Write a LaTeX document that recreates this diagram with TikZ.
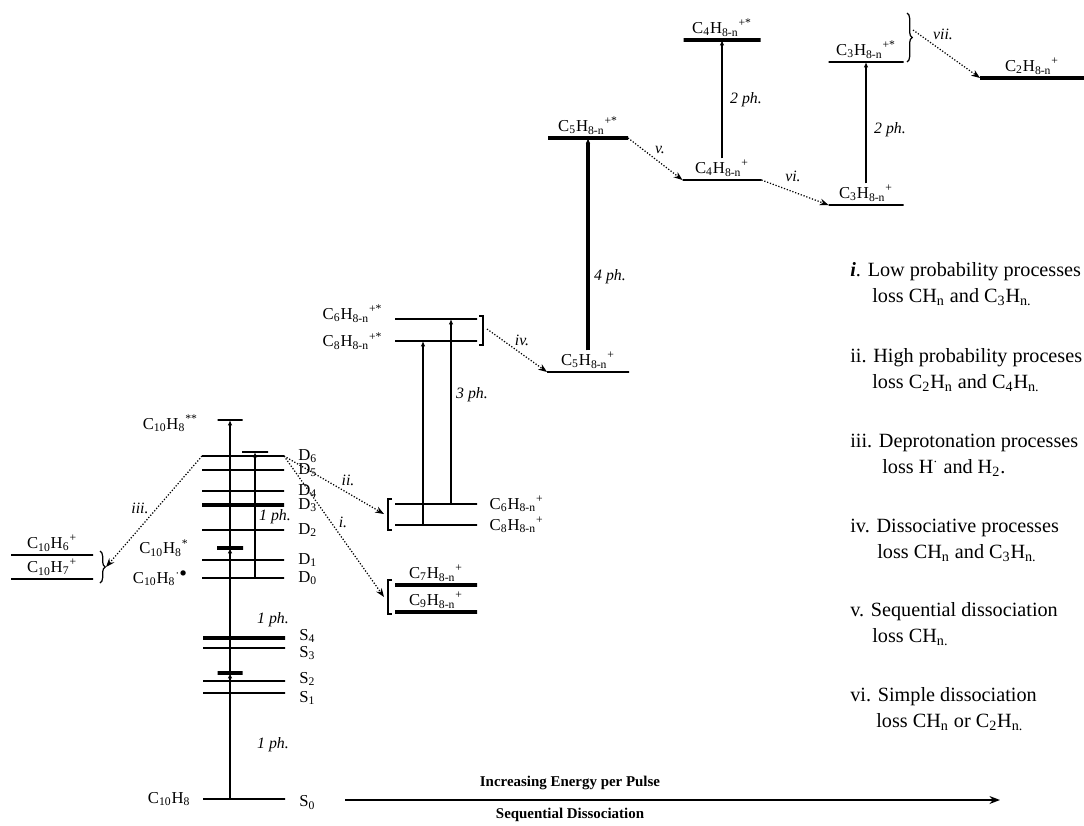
\documentclass[tikz,border=0pt]{standalone}
\usepackage{fontspec}
\setmainfont{Liberation Serif}
\usetikzlibrary{
  arrows.meta,
  positioning,
  decorations.pathreplacing
}
\newcommand{\cion}[2]{C\textsubscript{#1}H\textsubscript{8-n}\textsuperscript{#2}}
\newcommand{\cten}[2]{C\textsubscript{10}H\textsubscript{#1}\textsuperscript{#2}}

\begin{document}
\begin{tikzpicture}[
  x=0.02cm, y=-0.02cm,
  lvl/.style={draw, line width=0.8pt, minimum width=#1*0.02cm, minimum height=0pt, inner sep=0pt, outer sep=0pt},
  lvlb/.style={lvl=#1, line width=1.8pt},
  lab/.style={font=\fontsize{9.5}{10}\selectfont, inner sep=1pt},
  ph/.style={-{Latex[length=3pt, width=2.5pt]}, line width=0.7pt},
  phl/.style={font=\fontsize{9}{10}\selectfont\itshape},
  proc/.style={densely dotted, line width=0.7pt, -{Stealth[length=5pt]}},
  brc/.style={decorate, decoration={brace, amplitude=3pt}, line width=0.7pt},
  leg/.style={font=\fontsize{11.5}{13}\selectfont, anchor=west, inner sep=0pt},
  axl/.style={font=\fontsize{8.5}{10}\selectfont\bfseries},
]
\useasboundingbox (0,0) rectangle (1084,825);

% neutral and cation levels of C10H8
\node[lvl=82] (S0) at (244,799) {};
\node[lvl=82] (S1) at (244,693) {};
\node[lvl=82] (S2) at (244,681) {};
\node[lvl=82] (S3) at (244,648) {};
\node[lvlb=82] (S4) at (244,638) {};
\node[lvlb=25] (smark) at (230,673) {};
\node[lvl=82] (D0) at (243,578) {};
\node[lvl=82] (D1) at (243,560) {};
\node[lvl=82] (D2) at (243,530) {};
\node[lvlb=82] (D3) at (243,505) {};
\node[lvl=82] (D4) at (243,491) {};
\node[lvl=82] (D5) at (243,470) {};
\node[lvl=82] (D6) at (243,456) {};
\node[lvlb=26] (cmark) at (230,548) {};
\node[lvl=26] (dmark) at (255,452) {};
\node[lvl=25] (top) at (230,420) {};

\node[lab, right=7pt of S0, yshift=-2pt] {S\textsubscript{0}};
\node[lab, right=7pt of S1, yshift=-3pt] {S\textsubscript{1}};
\node[lab, right=7pt of S2, yshift=1pt] {S\textsubscript{2}};
\node[lab, right=7pt of S3, yshift=-3pt] {S\textsubscript{3}};
\node[lab, right=7pt of S4, yshift=1pt] {S\textsubscript{4}};
\foreach \n in {0,...,6}
  \node[lab, right=7pt of D\n] {D\textsubscript{\n}};

\node[lab, left=6pt of S0] {C\textsubscript{10}H\textsubscript{8}};
\node[lab, left=7pt of D0] {\cten{8}{$\cdot\bullet$}};
\node[lab, left=15pt of cmark] {\cten{8}{*}};
\node[lab, left=10pt of top, yshift=-2pt] {\cten{8}{**}};

\draw[ph] (smark |- S0) -- (smark);
\draw[ph] (smark) -- (cmark);
\draw[ph] (cmark) -- (top);
\draw[ph] (dmark |- D0) -- (dmark);
\node[phl] at (273,745) {1 ph.};
\node[phl] at (273,620) {1 ph.};
\node[phl] at (275,517) {1 ph.};

% deprotonation
\node[lvl=82] (C10H6) at (52,555) {};
\node[lvl=82] (C10H7) at (52,579) {};
\node[lab, above=1pt of C10H6] {\cten{6}{+}};
\node[lab, above=1pt of C10H7] {\cten{7}{+}};
\draw[brc] (100,551) -- (100,583);
\coordinate (brL) at (106,567);
\draw[proc] (D6.west) -- (brL);
\node[phl] at (140,508) {iii.};

% fragments
\node[lvl=82] (C6s) at (436,319) {};
\node[lvl=82] (C8s) at (436,341) {};
\node[lvl=82] (C6) at (436,504) {};
\node[lvl=82] (C8) at (436,525) {};
\node[lvlb=82] (C7) at (436,585) {};
\node[lvlb=82] (C9) at (436,612) {};
\node[lab, left=6pt of C6s, yshift=3pt] {\cion{6}{+*}};
\node[lab, left=6pt of C8s] {\cion{8}{+*}};
\node[lab, right=6pt of C6] {\cion{6}{+}};
\node[lab, right=6pt of C8] {\cion{8}{+}};
\node[lab, above=1pt of C7] {\cion{7}{+}};
\node[lab, above=1pt of C9] {\cion{9}{+}};

\draw[line width=0.7pt] (479,316) -- (483,316) -- (483,345) -- (479,345);
\draw[line width=0.7pt] (392,499) -- (388,499) -- (388,530) -- (392,530);
\draw[line width=0.7pt] (392,580) -- (388,580) -- (388,614) -- (392,614);
\coordinate (brR) at (487,329);
\coordinate (brM1) at (384,514);
\coordinate (brM2) at (384,597);

\coordinate (xa) at (423,0);
\coordinate (xb) at (451,0);
\draw[ph] (xa |- C8) -- (xa |- C8s);
\draw[ph] (xb |- C6) -- (xb |- C6s);
\node[phl] at (472,395) {3 ph.};

\draw[proc] (D6.east) -- (brM1);
\draw[proc] (D6.east) -- (brM2);
\node[phl] at (348,480) {ii.};
\node[phl] at (343,522) {i.};

% sequential dissociation
\node[lvl=82] (C5) at (588,372) {};
\node[lvlb=80] (C5s) at (588,138) {};
\node[lvl=79] (C4) at (722,180) {};
\node[lvlb=77] (C4s) at (722,40) {};
\node[lvl=75] (C3) at (866,205) {};
\node[lvl=75] (C3s) at (866,62) {};
\node[lvlb=104] (C2) at (1032,78) {};
\node[lab, above=1pt of C5] (C5lab) {\cion{5}{+}};
\node[lab, above=1pt of C5s] {\cion{5}{+*}};
\node[lab, above=1pt of C4] (C4lab) {\cion{4}{+}};
\node[lab, above=1pt of C4s] {\cion{4}{+*}};
\node[lab, above=1pt of C3] (C3lab) {\cion{3}{+}};
\node[lab, above=1pt of C3s] {\cion{3}{+*}};
\node[lab, above=1pt of C2] {\cion{2}{+}};

\draw[ph, line width=2pt] (C5lab) -- (C5s);
\draw[ph] (C4lab) -- (C4s);
\draw[ph] (C3lab) -- (C3s);
\node[phl] at (610,277) {4 ph.};
\node[phl] at (746,100) {2 ph.};
\node[phl] at (890,130) {2 ph.};

\draw[brc] (907,13) -- (907,62);
\coordinate (brT) at (913,30);
\draw[proc] (brR) -- (C5.west);
\draw[proc] (C5s.east) -- (C4.west);
\draw[proc] (C4.east) -- (C3.west);
\draw[proc] (brT) -- (C2.west);
\node[phl] at (522,340) {iv.};
\node[phl] at (660,150) {v.};
\node[phl] at (793,176) {vi.};
\node[phl] at (943,34) {vii.};

% legend
\node[leg] at (850,272) {\textbf{\textit{i}}. Low probability processes};
\node[leg] at (872,297) {loss CH\textsubscript{n} and C\textsubscript{3}H\textsubscript{n.}};
\node[leg] at (850,358) {ii. High probability proceses};
\node[leg] at (872,383) {loss C\textsubscript{2}H\textsubscript{n} and C\textsubscript{4}H\textsubscript{n.}};
\node[leg] at (850,443) {iii. Deprotonation processes};
\node[leg] at (882,468) {loss H\textsuperscript{$\cdot$} and H\textsubscript{2}.};
\node[leg] at (850,528) {iv. Dissociative processes};
\node[leg] at (877,553) {loss CH\textsubscript{n} and C\textsubscript{3}H\textsubscript{n.}};
\node[leg] at (850,612) {v. Sequential dissociation};
\node[leg] at (872,637) {loss CH\textsubscript{n.}};
\node[leg] at (850,697) {vi. Simple dissociation};
\node[leg] at (876,722) {loss CH\textsubscript{n} or C\textsubscript{2}H\textsubscript{n.}};

% energy axis
\coordinate (ax0) at (345,800);
\coordinate (ax1) at (1000,800);
\draw[-{Stealth[length=6pt]}, line width=1.2pt] (ax0) -- (ax1);
\node[axl] at (570,783) {Increasing Energy per Pulse};
\node[axl] at (570,815) {Sequential Dissociation};

\end{tikzpicture}
\end{document}
